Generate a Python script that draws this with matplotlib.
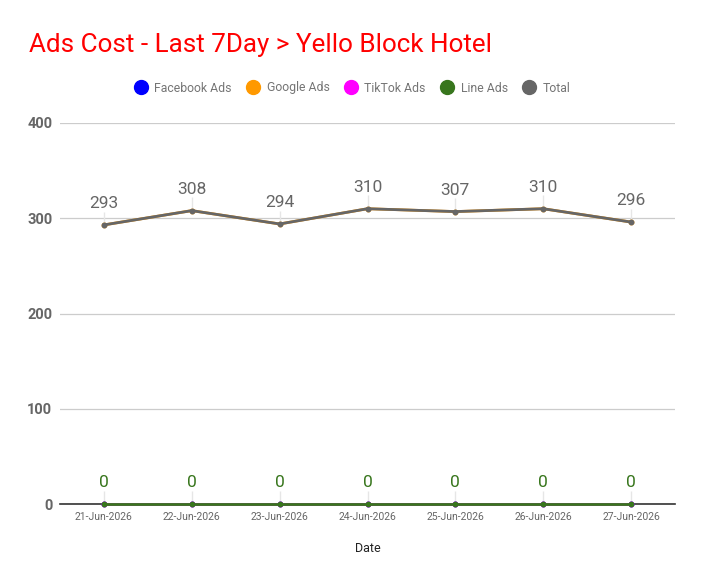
import numpy as np
import matplotlib.pyplot as plt
from matplotlib.lines import Line2D

# Data
dates = ["21-Jun-2026", "22-Jun-2026", "23-Jun-2026", "24-Jun-2026",
         "25-Jun-2026", "26-Jun-2026", "27-Jun-2026"]
facebookAds = [0, 0, 0, 0, 0, 0, 0]
googleAds = [293, 308, 294, 310, 307, 310, 296]
tiktokAds = [0, 0, 0, 0, 0, 0, 0]
lineAds = [0, 0, 0, 0, 0, 0, 0]
total = [293, 308, 294, 310, 307, 310, 296]

seriesNames = ["Facebook Ads", "Google Ads", "TikTok Ads", "Line Ads", "Total"]
seriesColors = ["#0000ff", "#ff9900", "#ff00ff", "#38761d", "#666666"]

plt.rcParams['font.family'] = ['Roboto', 'DejaVu Sans']

fig = plt.figure(figsize=(7.04, 5.85), dpi=100)
ax = fig.add_axes([60/704, 81/585, 615/704, 381/585])

x = np.arange(len(dates))
seriesValues = [facebookAds, googleAds, tiktokAds, lineAds, total]

# Zero baseline
ax.axhline(0, color="#333333", linewidth=1.2, zorder=2, clip_on=False)

# Lines
for vals, col in zip(seriesValues, seriesColors):
    ax.plot(x, vals, color=col, linewidth=2, marker='o', markersize=3.2,
            zorder=3, clip_on=False)

# Data labels with leader lines
def addLabels(vals, color):
    for xi, v in zip(x, vals):
        ax.vlines(xi, v, v + 14, color='#e6e6e6', linewidth=1, zorder=2.5)
        ax.annotate(str(v), xy=(xi, v), xytext=(0, 12), textcoords='offset points',
                    ha='center', va='baseline', fontsize=12.5, color=color, zorder=4)

addLabels(total, "#666666")
addLabels(lineAds, "#38761d")

# Axes styling
ax.set_xlim(-0.5, len(dates) - 0.5)
ax.set_ylim(0, 400)
ax.set_yticks([0, 100, 200, 300, 400])
ax.set_xticks(x)
ax.set_xticklabels(dates, fontsize=7.5, color="#666666")
for lbl in ax.get_yticklabels():
    lbl.set_fontsize(10.5)
    lbl.set_fontweight('bold')
    lbl.set_color("#666666")
ax.tick_params(axis='both', length=0)
ax.tick_params(axis='x', pad=6)
ax.tick_params(axis='y', pad=5.5)
for s in ax.spines.values():
    s.set_visible(False)
ax.grid(True, axis='y', color="#cccccc", linewidth=0.9)
ax.set_axisbelow(True)

ax.set_xlabel("Date", fontsize=9, color="#222222", labelpad=14.5)

# Title
fig.text(29/704, 1 - 45/585, "Ads Cost - Last 7Day > Yello Block Hotel",
         fontsize=18.7, color="#ff0000", va='center', ha='left')

# Legend
handles = [Line2D([0], [0], marker='o', linestyle='', markersize=10,
                  markerfacecolor=c, markeredgecolor=c) for c in seriesColors]
leg = fig.legend(handles, seriesNames, loc='center', bbox_to_anchor=(352/704, 1 - 88/585),
                 ncol=5, frameon=False, fontsize=8.8, handletextpad=0.5, columnspacing=1.15,
                 handlelength=1.2)
for t in leg.get_texts():
    t.set_color("#757575")

fig.savefig("out.png", dpi=100)
